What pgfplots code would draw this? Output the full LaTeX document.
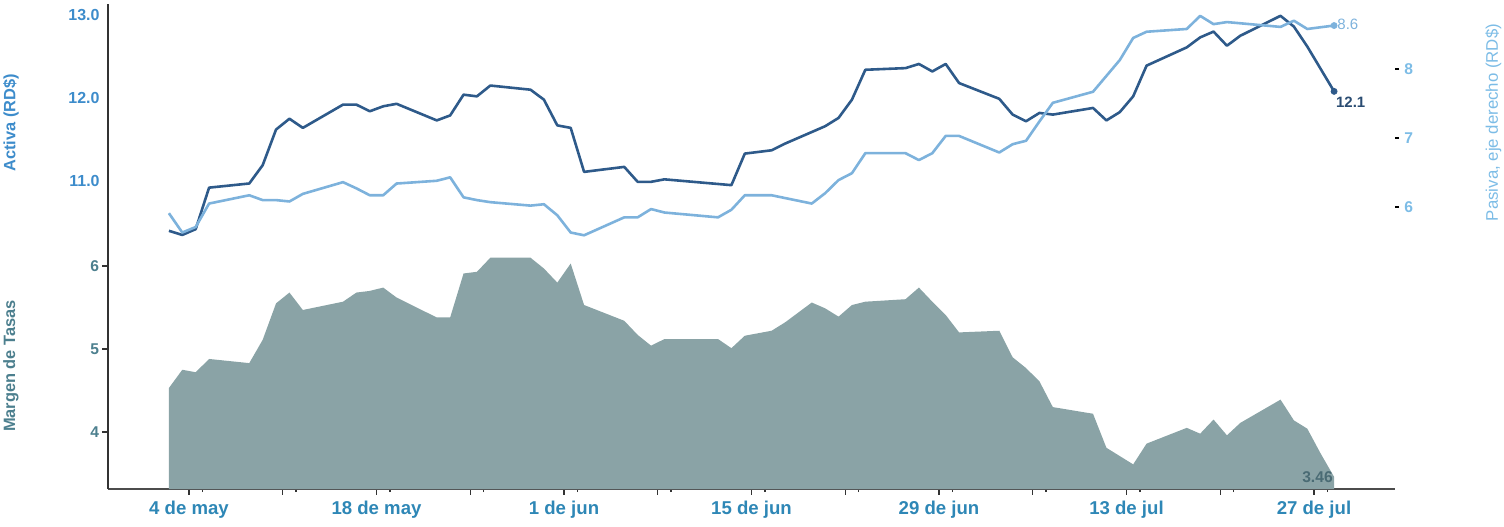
\documentclass[border=0pt]{standalone}
\usepackage{pgfplots}
\usepackage{pgfplotstable}
\pgfplotsset{compat=1.18}
\usepackage{fontspec}
\setmainfont{Liberation Sans}
\definecolor{activa}{HTML}{2E5A8A}
\definecolor{activatxt}{HTML}{2A4C72}
\definecolor{pasiva}{HTML}{7DB2DC}
\definecolor{margen}{HTML}{8AA3A6}
\definecolor{margentxt}{HTML}{4A6B74}
\definecolor{activalab}{HTML}{3D8CCB}
\definecolor{pasivalab}{HTML}{7CBCE6}
\definecolor{margenlab}{HTML}{4C7F8E}
\definecolor{xlab}{HTML}{2E87B6}
\definecolor{axisc}{HTML}{333333}

\pgfplotstableread{
x y
-1.5 10.40
-0.5 10.35
0.5 10.42
1.5 10.92
4.5 10.97
5.5 11.19
6.5 11.62
7.5 11.75
8.5 11.64
11.5 11.92
12.5 11.92
13.5 11.84
14.5 11.90
15.5 11.93
18.5 11.73
19.5 11.79
20.5 12.04
21.5 12.02
22.5 12.15
25.5 12.10
26.5 11.98
27.5 11.67
28.5 11.64
29.5 11.11
32.5 11.17
33.5 10.99
34.5 10.99
35.5 11.02
40.5 10.95
41.5 11.33
43.5 11.37
44.5 11.45
46.5 11.59
47.5 11.66
48.5 11.76
49.5 11.98
50.5 12.34
53.5 12.36
54.5 12.41
55.5 12.32
56.5 12.41
57.5 12.18
60.5 11.99
61.5 11.80
62.5 11.72
63.5 11.82
64.5 11.80
67.5 11.88
68.5 11.73
69.5 11.83
70.5 12.02
71.5 12.39
74.5 12.61
75.5 12.73
76.5 12.80
77.5 12.63
78.5 12.75
79.5 12.83
81.5 12.99
82.5 12.86
83.5 12.62
85.5 12.08
}\activa

\pgfplotstableread{
x y
-1.5 5.91
-0.5 5.63
0.5 5.71
1.5 6.05
4.5 6.17
5.5 6.10
6.5 6.10
7.5 6.08
8.5 6.19
11.5 6.36
12.5 6.27
13.5 6.17
14.5 6.17
15.5 6.34
18.5 6.38
19.5 6.43
20.5 6.14
21.5 6.10
22.5 6.07
25.5 6.02
26.5 6.04
27.5 5.88
28.5 5.63
29.5 5.59
32.5 5.85
33.5 5.85
34.5 5.97
35.5 5.92
39.5 5.85
40.5 5.96
41.5 6.17
43.5 6.17
46.5 6.05
47.5 6.20
48.5 6.39
49.5 6.49
50.5 6.78
53.5 6.78
54.5 6.68
55.5 6.78
56.5 7.03
57.5 7.03
60.5 6.79
61.5 6.91
62.5 6.96
63.5 7.24
64.5 7.51
67.5 7.67
68.5 7.90
69.5 8.13
70.5 8.45
71.5 8.54
74.5 8.58
75.5 8.77
76.5 8.65
77.5 8.68
81.5 8.61
82.5 8.70
83.5 8.58
85.5 8.63
}\pasiva

\pgfplotstableread{
x y
-1.5 4.53
-0.5 4.75
0.5 4.72
1.5 4.88
4.5 4.83
5.5 5.11
6.5 5.55
7.5 5.68
8.5 5.47
11.5 5.57
12.5 5.68
13.5 5.70
14.5 5.74
15.5 5.62
18.5 5.38
19.5 5.38
20.5 5.91
21.5 5.93
22.5 6.10
25.5 6.10
26.5 5.97
27.5 5.80
28.5 6.03
29.5 5.53
32.5 5.34
33.5 5.17
34.5 5.04
35.5 5.12
39.5 5.12
40.5 5.01
41.5 5.16
43.5 5.22
44.5 5.32
46.5 5.56
47.5 5.49
48.5 5.39
49.5 5.53
50.5 5.57
53.5 5.60
54.5 5.74
55.5 5.57
56.5 5.41
57.5 5.20
60.5 5.22
61.5 4.90
62.5 4.77
63.5 4.61
64.5 4.30
67.5 4.22
68.5 3.81
70.5 3.61
71.5 3.86
74.5 4.05
75.5 3.98
76.5 4.15
77.5 3.96
78.5 4.11
81.5 4.39
82.5 4.14
83.5 4.04
84.5 3.74
85.5 3.46
}\margen

\begin{document}
\begin{tikzpicture}
\useasboundingbox (0,0) rectangle (752pt,263pt);
\pgfplotsset{
  common/.style={
    anchor=south west, scale only axis,
    width=643.5pt,
    xmin=-6.048, xmax=90.05,
    clip mode=individual,
  }
}
% ---------- Top: Activa ----------
\begin{axis}[common,
  at={(54pt,143pt)}, height=118pt,
  ymin=10.28916, ymax=13.13253,
  axis x line=none,
  axis y line*=left,
  y axis line style={draw=axisc, line width=1pt, -},
  ytick={11,12,13}, yticklabels={11.0,12.0,13.0},
  major tick length=0pt,
  yticklabel style={font=\fontsize{8}{9}\selectfont\bfseries, text=activalab, inner sep=0pt, anchor=east, xshift=-4pt},
]
\addplot[activa, line width=1.3pt, line join=round] table {\activa};
\addplot[only marks, mark=*, mark size=1.5pt, activa] coordinates {(85.5,12.08)};
\node[anchor=west, inner sep=0pt, xshift=0.8pt, yshift=-5.5pt, font=\fontsize{7.5}{9}\selectfont\bfseries, text=activatxt] at (axis cs:85.5,12.08) {12.1};
\end{axis}
% ---------- Top: Pasiva (right) ----------
\begin{axis}[common,
  at={(54pt,143pt)}, height=118pt,
  ymin=5.52174, ymax=8.94203,
  axis x line=none,
  axis y line*=right,
  y axis line style={draw=none},
  ytick={6,7,8}, yticklabels={6,7,8},
  tick align=outside,
  major tick length=2pt,
  ytick style={draw=black, line width=0.7pt},
  yticklabel style={font=\fontsize{7.8}{9}\selectfont\bfseries, text=pasivalab, inner sep=0pt, anchor=west, xshift=2.5pt},
]
\addplot[pasiva, line width=1.3pt, line join=round] table {\pasiva};
\addplot[only marks, mark=*, mark size=1.5pt, pasiva] coordinates {(85.5,8.63)};
\node[anchor=west, inner sep=0pt, xshift=1.5pt, yshift=0.8pt, font=\fontsize{7.5}{9}\selectfont, text=pasiva] at (axis cs:85.5,8.63) {8.6};
\end{axis}
% ---------- Bottom: Margen ----------
\begin{axis}[common,
  at={(54pt,18.5pt)}, height=124.5pt,
  ymin=3.31325, ymax=6.31325,
  axis x line*=bottom,
  axis y line*=left,
  x axis line style={draw=black!70, line width=1pt, -},
  y axis line style={draw=axisc, line width=1pt, -},
  ytick={4,5,6}, yticklabels={4,5,6},
  xtick={0,7,...,84},
  xticklabels={4 de may,,18 de may,,1 de jun,,15 de jun,,29 de jun,,13 de jul,,27 de jul},
  minor xtick={1,8,...,85},
  tick align=outside,
  major tick length=2.8pt,
  minor tick length=1.5pt,
  tick style={draw=axisc, line width=0.7pt},
  yticklabel style={font=\fontsize{7.8}{9}\selectfont\bfseries, text=margenlab, inner sep=0pt, anchor=east, xshift=-1.5pt},
  xticklabel style={font=\fontsize{9.3}{11}\selectfont\bfseries, text=xlab, inner sep=0pt, anchor=north, yshift=-3pt},
]
\addplot[fill=margen, draw=none] table {\margen} \closedcycle;
\node[anchor=east, inner sep=0pt, xshift=-0.5pt, font=\fontsize{7.8}{9}\selectfont\bfseries, text=margentxt] at (axis cs:85.5,3.46) {3.46};
\end{axis}
% ---------- Axis titles ----------
\node[rotate=90, inner sep=0pt, font=\fontsize{8.2}{10}\selectfont\bfseries, text=activalab] at (5.5pt,201.5pt) {Activa (RD\$)};
\node[rotate=90, inner sep=0pt, font=\fontsize{8.2}{10}\selectfont\bfseries, text=margenlab] at (5.5pt,80pt) {Margen de Tasas};
\node[rotate=90, inner sep=0pt, font=\fontsize{8.4}{10}\selectfont, text=pasivalab] at (746.75pt,201.75pt) {Pasiva, eje derecho (RD\$)};
\end{tikzpicture}
\end{document}
